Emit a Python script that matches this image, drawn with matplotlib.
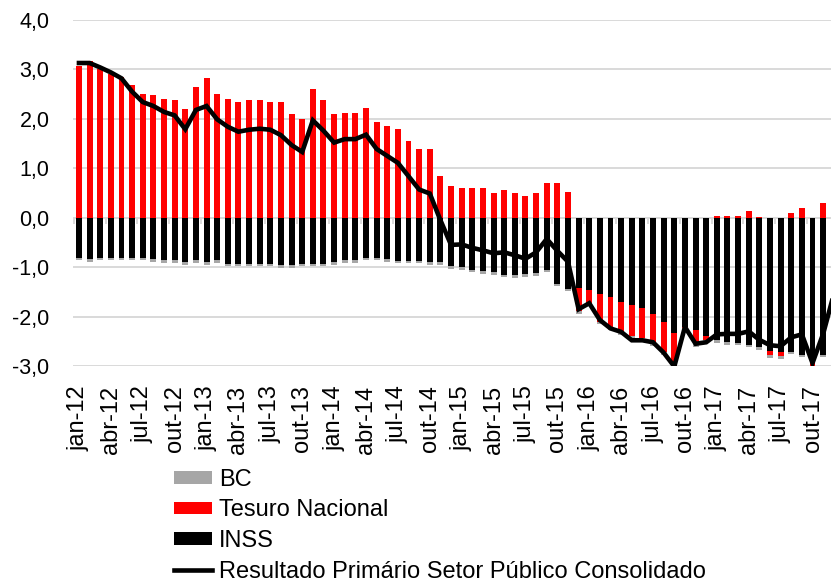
import numpy as np
import matplotlib.pyplot as plt

plt.rcParams['font.family'] = ['Liberation Sans', 'DejaVu Sans']

# meses de jan-12 a dez-17
meses = ['jan', 'fev', 'mar', 'abr', 'mai', 'jun', 'jul', 'ago', 'set', 'out', 'nov', 'dez']
anos = ['12', '13', '14', '15', '16', '17']
rotulos = [m + '-' + a for a in anos for m in meses]

# tesouro nacional (% do PIB)
tesouro = [3.07, 3.18, 3.00, 2.90, 2.84, 2.68, 2.51, 2.48, 2.41, 2.39, 2.20, 2.65,
           2.82, 2.51, 2.41, 2.35, 2.39, 2.39, 2.35, 2.35, 2.09, 1.99, 2.61, 2.39,
           2.09, 2.12, 2.12, 2.22, 1.93, 1.86, 1.79, 1.56, 1.40, 1.40, 0.84, 0.64,
           0.61, 0.61, 0.61, 0.51, 0.57, 0.51, 0.44, 0.51, 0.70, 0.70, 0.53, -0.46,
           -0.25, -0.56, -0.62, -0.62, -0.62, -0.61, -0.60, -0.62, -0.65, -0.02, -0.29, -0.07,
           0.03, 0.03, 0.03, 0.13, 0.02, -0.07, -0.07, 0.10, 0.20, -0.13, 0.30, np.nan]

# inss
inss = [-0.81, -0.84, -0.81, -0.81, -0.81, -0.81, -0.81, -0.84, -0.86, -0.86, -0.90, -0.86,
        -0.90, -0.86, -0.93, -0.93, -0.93, -0.93, -0.93, -0.96, -0.96, -0.93, -0.93, -0.93,
        -0.90, -0.86, -0.86, -0.81, -0.81, -0.84, -0.87, -0.87, -0.87, -0.90, -0.90, -0.98,
        -1.00, -1.05, -1.08, -1.10, -1.15, -1.16, -1.14, -1.12, -1.05, -1.34, -1.44, -1.43,
        -1.47, -1.54, -1.60, -1.70, -1.77, -1.83, -1.94, -2.10, -2.34, -2.22, -2.27, -2.40,
        -2.47, -2.52, -2.53, -2.57, -2.62, -2.70, -2.72, -2.72, -2.77, -2.89, -2.77, np.nan]

# banco central
bc = [-0.05, -0.05, -0.05, -0.05, -0.05, -0.05, -0.05, -0.05, -0.05, -0.05, -0.05, -0.05,
      -0.05, -0.05, -0.05, -0.05, -0.05, -0.05, -0.05, -0.05, -0.05, -0.05, -0.05, -0.05,
      -0.05, -0.05, -0.05, -0.05, -0.05, -0.05, -0.05, -0.05, -0.05, -0.05, -0.05, -0.05,
      -0.05, -0.05, -0.05, -0.05, -0.05, -0.05, -0.05, -0.05, -0.05, -0.05, -0.05, -0.05,
      -0.05, -0.05, -0.05, -0.05, -0.05, -0.05, -0.05, -0.05, -0.05, -0.05, -0.05, -0.05,
      -0.06, -0.05, -0.05, -0.05, -0.05, -0.06, -0.06, -0.04, -0.04, -0.04, -0.04, np.nan]

# resultado primario do setor publico consolidado
resultado = [3.13, 3.13, 3.04, 2.94, 2.82, 2.55, 2.34, 2.26, 2.14, 2.07, 1.79, 2.18,
             2.26, 1.99, 1.84, 1.74, 1.78, 1.80, 1.78, 1.67, 1.47, 1.33, 1.97, 1.76,
             1.52, 1.59, 1.59, 1.68, 1.39, 1.25, 1.11, 0.84, 0.57, 0.49, -0.05, -0.55,
             -0.54, -0.61, -0.66, -0.72, -0.70, -0.76, -0.83, -0.70, -0.43, -0.67, -0.89, -1.85,
             -1.73, -2.07, -2.24, -2.31, -2.48, -2.48, -2.52, -2.73, -3.01, -2.21, -2.55, -2.52,
             -2.36, -2.35, -2.35, -2.30, -2.47, -2.58, -2.60, -2.42, -2.36, -2.94, -2.35, -1.55]

x = np.arange(len(rotulos))
tn = np.array(tesouro)
ins = np.array(inss)
b = np.array(bc)

# bases das barras empilhadas
tn_pos = np.where(tn > 0, tn, 0)
tn_neg = np.where(tn < 0, tn, 0)
base_tn_neg = ins
base_bc = ins + tn_neg

fig = plt.figure(figsize=(8.31, 5.83), dpi=100)
ax = fig.add_axes([73 / 831, 1 - 366 / 583, 1 - 73 / 831, (366 - 20) / 583])

largura = 0.56
ax.bar(x, b, largura, bottom=base_bc, color='#A6A6A6', zorder=3, label='BC')
ax.bar(x, tn_pos, largura, color='#FF0000', zorder=3, label='Tesuro Nacional')
ax.bar(x, tn_neg, largura, bottom=base_tn_neg, color='#FF0000', zorder=3)
ax.bar(x, ins, largura, color='black', zorder=3, label='INSS')
ax.plot(x, resultado, color='black', lw=3.3, zorder=4, solid_joinstyle='miter',
        label='Resultado Primário Setor Público Consolidado')

# grade horizontal
for v in range(-3, 5):
    ax.axhline(v, color='#D9D9D9', lw=1.4, zorder=1)
# marcas no eixo do zero
ax.vlines(x[::3] - 0.5, -0.13, 0, color='#D9D9D9', lw=1.4, zorder=1)

ax.set_ylim(-3, 4)
ax.set_xlim(-0.56, 70.74)
ax.set_yticks(range(-3, 5))
ax.set_yticklabels([('%.1f' % v).replace('.', ',') for v in range(-3, 5)], fontsize=15.5)
ax.set_xticks(x[::3])
ax.set_xticklabels(rotulos[::3], rotation=90, fontsize=17)
ax.tick_params(axis='both', length=0)
ax.tick_params(axis='y', pad=17)
ax.tick_params(axis='x', pad=14)
for s in ax.spines.values():
    s.set_visible(False)

# legenda abaixo do grafico
h, l = ax.get_legend_handles_labels()
nomes = ['BC', 'Tesuro Nacional', 'INSS', 'Resultado Primário Setor Público Consolidado']
hs = [h[l.index(n)] for n in nomes]
fig.legend(hs, nomes, loc='upper left',
           bbox_to_anchor=(174 / 831, 1 - 469 / 583), frameon=False, fontsize=17,
           handlelength=1.6, handleheight=0.45, handletextpad=0.3, labelspacing=0.36,
           borderpad=0, borderaxespad=0)

fig.savefig('out.png', dpi=100)
